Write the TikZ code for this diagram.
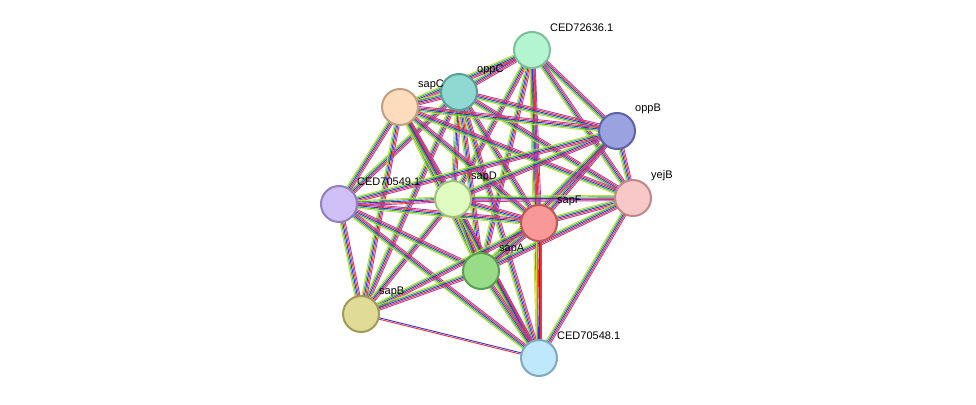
\documentclass[tikz,border=0pt]{standalone}
\usepackage{fontspec}
\setmainfont{Liberation Sans}
\usetikzlibrary{calc}
\pgfdeclarelayer{bg}\pgfsetlayers{bg,main}
\newcommand{\E}[2]{\foreach \o/\c in {-2.6/ctm,-1.3/cgr,0/cbl,1.3/crd,2.6/cmg}{\draw[\c,line width=0.9pt] ($(#1)!\o pt!90:(#2)$) -- ($(#2)!\o pt!-90:(#1)$);}}
\newcommand{\F}[2]{\foreach \o/\c in {-0.7/crd,0.7/cbl}{\draw[\c,line width=0.9pt] ($(#1)!\o pt!90:(#2)$) -- ($(#2)!\o pt!-90:(#1)$);}}
\definecolor{ctm}{HTML}{C8D840}
\definecolor{cgr}{HTML}{30C030}
\definecolor{cbl}{HTML}{3030F0}
\definecolor{crd}{HTML}{F03030}
\definecolor{cmg}{HTML}{B040B0}
\tikzset{prot/.style={circle,minimum size=36pt,inner sep=0,line width=2pt},
lab/.style={anchor=west,font=\fontsize{11}{13}\selectfont,inner sep=0}}
\newcommand{\Prot}[5]{\node[prot,fill=#4,draw=#5] (#1) at (#2,#3) {};}
\begin{document}
\begin{tikzpicture}[x=1pt,y=-1pt]
\useasboundingbox (0,0) rectangle (976,404);
\Prot{c72}{532}{50}{{rgb,255:red,179;green,245;blue,208}}{{rgb,255:red,124;green,192;blue,154}}
\Prot{oppC}{459}{92}{{rgb,255:red,143;green,217;blue,210}}{{rgb,255:red,90;green,158;blue,154}}
\Prot{sapC}{400}{107}{{rgb,255:red,252;green,220;blue,188}}{{rgb,255:red,192;green,160;blue,128}}
\Prot{oppB}{617}{131}{{rgb,255:red,154;green,163;blue,224}}{{rgb,255:red,90;green,99;blue,168}}
\Prot{yejB}{633}{198}{{rgb,255:red,248;green,200;blue,200}}{{rgb,255:red,192;green,136;blue,136}}
\Prot{sapD}{453}{199}{{rgb,255:red,224;green,252;blue,192}}{{rgb,255:red,160;green,192;blue,128}}
\Prot{c49}{339}{204}{{rgb,255:red,208;green,192;blue,248}}{{rgb,255:red,144;green,128;blue,192}}
\Prot{sapF}{539}{223}{{rgb,255:red,248;green,152;blue,152}}{{rgb,255:red,192;green,88;blue,88}}
\Prot{sapA}{481}{271}{{rgb,255:red,152;green,220;blue,136}}{{rgb,255:red,90;green,158;blue,80}}
\Prot{sapB}{361}{314}{{rgb,255:red,224;green,220;blue,152}}{{rgb,255:red,160;green,156;blue,88}}
\Prot{c48}{539}{358}{{rgb,255:red,192;green,232;blue,252}}{{rgb,255:red,128;green,168;blue,192}}
\begin{pgfonlayer}{bg}
\E{c72}{oppC}\E{c72}{sapC}\E{c72}{oppB}\E{c72}{yejB}\E{c72}{sapD}\E{c72}{sapF}\E{c72}{sapA}\E{c72}{c48}
\E{oppC}{sapC}\E{oppC}{oppB}\E{oppC}{yejB}\E{oppC}{sapD}\E{oppC}{sapF}\E{oppC}{sapA}\E{oppC}{c49}\E{oppC}{sapB}\E{oppC}{c48}
\E{sapC}{oppB}\E{sapC}{sapD}\E{sapC}{sapF}\E{sapC}{sapA}\E{sapC}{c49}\E{sapC}{sapB}\E{sapC}{c48}\E{sapC}{yejB}
\E{oppB}{yejB}\E{oppB}{sapD}\E{oppB}{sapF}\E{oppB}{sapA}\E{oppB}{c49}
\E{yejB}{sapF}\E{yejB}{sapA}\E{yejB}{sapD}\E{yejB}{c48}
\E{sapD}{c49}\E{sapD}{sapF}\E{sapD}{sapA}\E{sapD}{sapB}\E{sapD}{c48}
\E{c49}{sapF}\E{c49}{sapA}\E{c49}{sapB}\E{c49}{c48}
\E{sapF}{sapA}\E{sapF}{sapB}\E{sapF}{c48}
\E{sapA}{sapB}\E{sapA}{c48}
\F{sapB}{c48}
\end{pgfonlayer}
\foreach \n/\t in {c72/CED72636.1,oppC/oppC,sapC/sapC,oppB/oppB,yejB/yejB,sapD/sapD,c49/CED70549.1,sapF/sapF,sapA/sapA,sapB/sapB,c48/CED70548.1}
  \node[lab] (l\n) at ($(\n)+(18,-22)$) {\t};
\end{tikzpicture}
\end{document}
